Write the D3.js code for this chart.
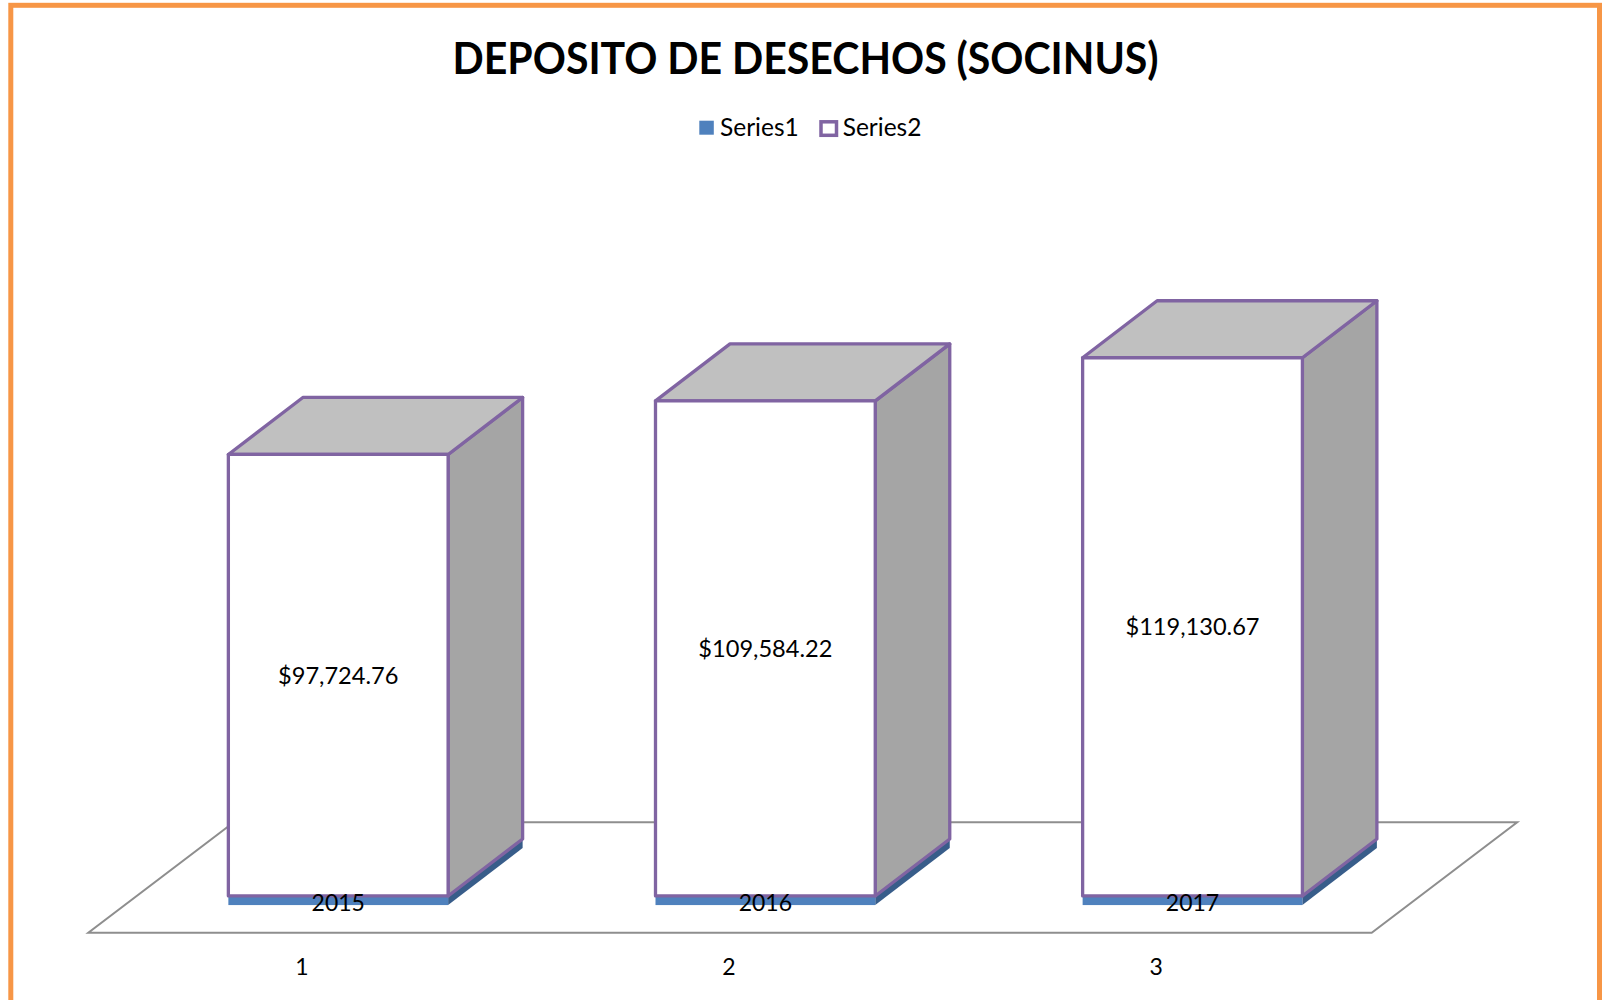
<!DOCTYPE html>
<html><head><meta charset="utf-8">
<script src="https://cdn.jsdelivr.net/npm/d3@7"></script>
<style>html,body{margin:0;padding:0;background:#fff;}svg{display:block;}</style>
</head><body>
<script>
const categories = ["1", "2", "3"];
const series1 = [2015, 2016, 2017];
const series2 = [97724.76, 109584.22, 119130.67];
const seriesNames = ["Series1", "Series2"];
const series2Labels = ["$97,724.76", "$109,584.22", "$119,130.67"];
const title = "DEPOSITO DE DESECHOS (SOCINUS)";

const W = 1602, H = 1000;
const svg = d3.select("body").append("svg").attr("width", W).attr("height", H);
const FONT = "Lato, 'Open Sans', sans-serif";

// chart border
svg.append("rect").attr("x", 10.8).attr("y", 5.3).attr("width", 1588.7).attr("height", 1010)
  .attr("fill", "#fff").attr("stroke", "#F79646").attr("stroke-width", 5);

// geometry
const floorFrontY = 932.7;
const floorX = [88.3, 1371.7];
const floorDepth = [145.5, -110.5];
const barDepth = [74.5, -57];
const barDepthStart = 0.25;
const x = d3.scaleBand().domain(categories).range([88.3, 1369.7]).paddingInner(0.4855).paddingOuter(0.24275);
const baseY = floorFrontY + floorDepth[1] * barDepthStart;
const offX = floorDepth[0] * barDepthStart;
const y = d3.scaleLinear().domain([0, 140000]).range([baseY, baseY - 632.5]);

// floor
const fl = [[floorX[0], floorFrontY], [floorX[1], floorFrontY],
  [floorX[1] + floorDepth[0], floorFrontY + floorDepth[1]], [floorX[0] + floorDepth[0], floorFrontY + floorDepth[1]]];
svg.append("path").attr("d", d3.line()(fl) + "Z").attr("fill", "none").attr("stroke", "#8E8E8E").attr("stroke-width", 2);

const line = d3.line();
function box(g, x0, x1, yb, yt, front, top, side, stroke, sw) {
  const [dx, dy] = barDepth;
  g.append("path").attr("d", line([[x1, yb], [x1 + dx, yb + dy], [x1 + dx, yt + dy], [x1, yt]]) + "Z")
    .attr("fill", side).attr("stroke", stroke).attr("stroke-width", sw).attr("stroke-linejoin", "round");
  if (top) g.append("path").attr("d", line([[x0, yt], [x1, yt], [x1 + dx, yt + dy], [x0 + dx, yt + dy]]) + "Z")
    .attr("fill", top).attr("stroke", stroke).attr("stroke-width", sw).attr("stroke-linejoin", "round");
  g.append("rect").attr("x", x0).attr("y", yt).attr("width", x1 - x0).attr("height", yb - yt)
    .attr("fill", front).attr("stroke", stroke).attr("stroke-width", sw).attr("stroke-linejoin", "round");
}

categories.forEach((c, i) => {
  const g = svg.append("g");
  const x0 = x(c) + offX, x1 = x0 + x.bandwidth();
  const y1 = y(series1[i]);
  const y2 = y(series1[i] + series2[i]);
  box(g, x0, x1, baseY, y1, "#4F81BD", null, "#385D8A", "none", 0);
  box(g, x0, x1, y1, y2, "#FFFFFF", "#C0C0C0", "#A5A5A5", "#8064A2", 3.3);
  const cx = (x0 + x1) / 2;
  svg.append("text").attr("x", cx).attr("y", (y1 + y2) / 2).attr("dy", "0.36em")
    .attr("text-anchor", "middle").attr("font-family", FONT).attr("font-size", 23.6).attr("fill", "#000")
    .text(series2Labels[i]);
  svg.append("text").attr("x", cx).attr("y", 910.5)
    .attr("text-anchor", "middle").attr("font-family", FONT).attr("font-size", 23).attr("fill", "#000")
    .text(series1[i]);
  svg.append("text").attr("x", x(c) + x.bandwidth() / 2).attr("y", 975)
    .attr("text-anchor", "middle").attr("font-family", FONT).attr("font-size", 23).attr("fill", "#000")
    .text(c);
});

// title
const t = svg.append("text").attr("x", 805.6).attr("y", 73.5).attr("text-anchor", "middle")
  .attr("font-family", FONT).attr("font-weight", 700).attr("font-size", 44).attr("fill", "#000").text(title);
const tl = t.node().getComputedTextLength();
if (Math.abs(tl - 706) > 4) t.attr("textLength", 706).attr("lengthAdjust", "spacingAndGlyphs");

// legend
svg.append("rect").attr("x", 699.3).attr("y", 120.7).attr("width", 14.5).attr("height", 14).attr("fill", "#4F81BD");
svg.append("text").attr("x", 720).attr("y", 136).attr("font-family", FONT).attr("font-size", 24.5).text(seriesNames[0]);
svg.append("rect").attr("x", 821).attr("y", 121.8).attr("width", 15.5).attr("height", 13.5)
  .attr("fill", "#fff").attr("stroke", "#8064A2").attr("stroke-width", 3.5);
svg.append("text").attr("x", 842.7).attr("y", 136).attr("font-family", FONT).attr("font-size", 24.5).text(seriesNames[1]);
</script>
</body></html>
